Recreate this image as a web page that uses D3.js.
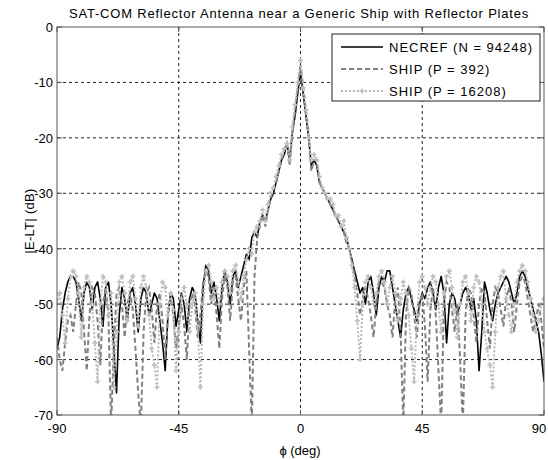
<!DOCTYPE html>
<html><head><meta charset="utf-8">
<script src="https://cdn.jsdelivr.net/npm/d3@7"></script>
<style>body{margin:0;background:#fff}svg{display:block}text{font-family:"Liberation Sans",Arial,sans-serif}</style>
</head><body>
<svg id="c" width="548" height="460"></svg>
<script>
const title = "SAT-COM Reflector Antenna near a Generic Ship with Reflector Plates";
const xLabel = "\u03D5 (deg)";
const yLabel = "|E-LT| (dB)";
const xTicks = [-90, -45, 0, 45, 90];
const yTicks = [0, -10, -20, -30, -40, -50, -60, -70];
const seriesNames = ["NECREF (N = 94248)", "SHIP (P = 392)", "SHIP (P = 16208)"];
// angle samples, -90..90 deg step 1
const phi = d3.range(-90, 91, 1);
const necref = [
-58,-56,-51,-48,-46,-45,-45,-46,-49,-53,-48,-46,-47,-51,-47,-46,-49,-54,-47,-46,
-50,-58,-66,-52,-47,-49,-53,-48,-47,-50,-55,-49,-47,-48,-52,-50,-48,-49,-53,-57,
-62,-52,-48,-49,-54,-51,-48,-50,-55,-49,-47,-48,-53,-57,-47,-43,-44,-48,-46,-49,
-53,-47,-44,-46,-50,-45,-44,-47,-45,-43,
-41,-42,-38,-37,-38,-35,-34,-35,-33,-31,-30,-28,-26,-24,-23,-21,-24,-19,-16,-12,
-8,
-12,-16,-20,-25,-24,-25,-28,-29,-30,-31,-32,-33,-34,-35,-36,-37,-38,-40,-42,-44,
-46,-48,-47,-50,-46,-45,-48,-52,-47,-45,-46,-44,-44,-47,-50,-53,-56,-51,-48,-47,
-49,-51,-53,-50,-48,-49,-47,-46,-48,-51,-47,-45,-48,-57,-50,-48,-49,-52,-50,-48,
-47,-48,-51,-49,-53,-62,-55,-46,-48,-51,-53,-50,-48,-47,-46,-45,-46,-48,-50,-48,
-45,-44,-45,-47,-49,-51,-53,-55,-59,-64];
const ship392 = [
-56,-60,-62,-57,-53,-52,-55,-50,-46,-48,-55,-62,-52,-47,-48,-53,-61,-50,-47,-52,
-72,-58,-48,-47,-50,-56,-50,-48,-51,-58,-66,-72,-55,-48,-47,-51,-57,-50,-48,-53,
-60,-52,-49,-52,-58,-54,-50,-54,-60,-50,-48,-50,-56,-52,-46,-44,-45,-50,-47,-52,
-58,-49,-45,-47,-53,-46,-45,-49,-53,-47,
-44,-58,-72,-45,-38,-36,-34,-36,-33,-31,-29,-28,-26,-24,-22,-21,-25,-19,-15,-11,
-7,
-11,-15,-19,-26,-24,-24,-28,-29,-30,-31,-32,-33,-34,-35,-36,-37,-39,-40,-42,-45,
-48,-52,-49,-47,-49,-52,-56,-50,-46,-46,-47,-50,-52,-56,-49,-47,-55,-72,-52,-47,
-48,-52,-56,-50,-48,-54,-64,-51,-47,-52,-62,-72,-50,-46,-47,-51,-55,-50,-60,-72,
-52,-47,-48,-52,-57,-50,-47,-48,-53,-58,-50,-47,-48,-51,-54,-49,-47,-50,-55,-50,
-46,-45,-46,-49,-52,-55,-53,-50,-53,-58];
const ship16208 = [
-50,-48,-52,-57,-49,-45,-44,-45,-48,-56,-47,-45,-46,-50,-57,-64,-50,-45,-46,-52,
-48,-65,-55,-46,-45,-48,-53,-46,-45,-49,-54,-47,-45,-47,-52,-58,-61,-65,-50,-46,
-47,-52,-48,-51,-62,-55,-49,-47,-50,-55,-50,-48,-54,-65,-50,-44,-43,-46,-49,-47,
-50,-46,-44,-45,-48,-44,-43,-46,-49,-45,
-42,-40,-41,-37,-36,-35,-33,-35,-32,-30,-29,-27,-25,-23,-22,-21,-24,-18,-14,-10,
-6,
-11,-15,-20,-24,-23,-24,-27,-29,-30,-31,-31,-32,-34,-34,-36,-35,-38,-40,-43,-47,
-53,-60,-50,-46,-45,-47,-50,-48,-45,-44,-46,-50,-47,-45,-48,-53,-49,-46,-48,-52,
-58,-64,-52,-46,-45,-47,-50,-47,-45,-46,-50,-55,-48,-45,-44,-47,-51,-56,-50,-46,
-45,-48,-53,-47,-45,-46,-50,-55,-58,-61,-65,-55,-47,-45,-44,-49,-52,-55,-50,-46,
-44,-43,-44,-46,-49,-52,-55,-53,-50,-49];

const svg = d3.select("#c");
const L = 57, R = 544, T = 27, B = 415;
const x = d3.scaleLinear().domain([-90, 90]).range([L, R]);
const y = d3.scaleLinear().domain([-70, 0]).range([B, T]);

svg.append("rect").attr("width", 548).attr("height", 460).attr("fill", "#fff");
svg.append("defs").append("clipPath").attr("id", "clip")
  .append("rect").attr("x", L).attr("y", T).attr("width", R - L).attr("height", B - T);

// grid
const g = svg.append("g");
g.selectAll("line.gx").data(xTicks.slice(1, -1)).join("line")
  .attr("x1", d => x(d)).attr("x2", d => x(d)).attr("y1", T).attr("y2", B)
  .attr("stroke", "#222").attr("stroke-width", 1).attr("stroke-dasharray", "3,3");
g.selectAll("line.gy").data(yTicks.slice(1, -1)).join("line")
  .attr("y1", d => y(d)).attr("y2", d => y(d)).attr("x1", L).attr("x2", R)
  .attr("stroke", "#222").attr("stroke-width", 1).attr("stroke-dasharray", "3,3");

const line = d3.line().x((d, i) => x(phi[i])).y(d => y(d));
const plot = svg.append("g").attr("clip-path", "url(#clip)");
plot.append("path").datum(necref).attr("d", line).attr("fill", "none")
  .attr("stroke", "#000").attr("stroke-width", 1.6).attr("stroke-linejoin", "round");
plot.append("path").datum(ship392).attr("d", line).attr("fill", "none")
  .attr("stroke", "#808080").attr("stroke-width", 2).attr("stroke-dasharray", "5,3");
plot.append("path").datum(ship16208).attr("d", line).attr("fill", "none")
  .attr("stroke", "#b8b8b8").attr("stroke-width", 2).attr("stroke-dasharray", "2,2");
const mk = d3.symbol().type(d3.symbolCross).size(14);
plot.selectAll("path.mk").data(ship16208).join("path").attr("class", "mk")
  .attr("transform", (d, i) => `translate(${x(phi[i])},${y(d)})`)
  .attr("d", mk).attr("fill", "#c0c0c0");

// frame + ticks
const fr = "#555";
svg.append("rect").attr("x", L).attr("y", T).attr("width", R - L).attr("height", B - T)
  .attr("fill", "none").attr("stroke", fr).attr("stroke-width", 1);
const tl = 5;
xTicks.forEach(t => {
  svg.append("line").attr("x1", x(t)).attr("x2", x(t)).attr("y1", B).attr("y2", B - tl).attr("stroke", fr);
  svg.append("line").attr("x1", x(t)).attr("x2", x(t)).attr("y1", T).attr("y2", T + tl).attr("stroke", fr);
});
yTicks.forEach(t => {
  svg.append("line").attr("y1", y(t)).attr("y2", y(t)).attr("x1", L).attr("x2", L + tl).attr("stroke", fr);
  svg.append("line").attr("y1", y(t)).attr("y2", y(t)).attr("x1", R).attr("x2", R - tl).attr("stroke", fr);
});
svg.selectAll("text.xt").data(xTicks).join("text")
  .attr("x", d => Math.min(x(d), 539)).attr("y", 433)
  .attr("text-anchor", "middle").attr("font-size", 13).text(d => d);
svg.selectAll("text.yt").data(yTicks).join("text").attr("x", L - 4).attr("y", d => y(d) + 5)
  .attr("text-anchor", "end").attr("font-size", 13).text(d => d);

svg.append("text").attr("x", 299).attr("y", 18).attr("text-anchor", "middle")
  .attr("font-size", 13).attr("letter-spacing", 0.8).text(title);
svg.append("text").attr("x", 300).attr("y", 455).attr("text-anchor", "middle")
  .attr("font-size", 13).text(xLabel);
svg.append("text").attr("transform", `translate(34,${(T + B) / 2}) rotate(-90)`)
  .attr("text-anchor", "middle").attr("font-size", 13).attr("letter-spacing", 0.3).text(yLabel);

// legend
const lg = svg.append("g");
lg.append("rect").attr("x", 332).attr("y", 34).attr("width", 208).attr("height", 67)
  .attr("fill", "#fff").attr("stroke", "#222").attr("stroke-width", 1);
const styles = [
  {c: "#000", w: 1.6, da: null},
  {c: "#808080", w: 2, da: "5,3"},
  {c: "#b8b8b8", w: 2, da: "2,2"}
];
seriesNames.forEach((n, i) => {
  const yy = 47 + i * 22;
  lg.append("line").attr("x1", 341).attr("x2", 383).attr("y1", yy).attr("y2", yy)
    .attr("stroke", styles[i].c).attr("stroke-width", styles[i].w)
    .attr("stroke-dasharray", styles[i].da);
  if (i === 2) lg.append("path").attr("transform", `translate(362,${yy})`).attr("d", mk).attr("fill", "#c0c0c0");
  lg.append("text").attr("x", 389).attr("y", yy + 5).attr("font-size", 13)
    .attr("letter-spacing", 1).text(n);
});
</script>
</body></html>
